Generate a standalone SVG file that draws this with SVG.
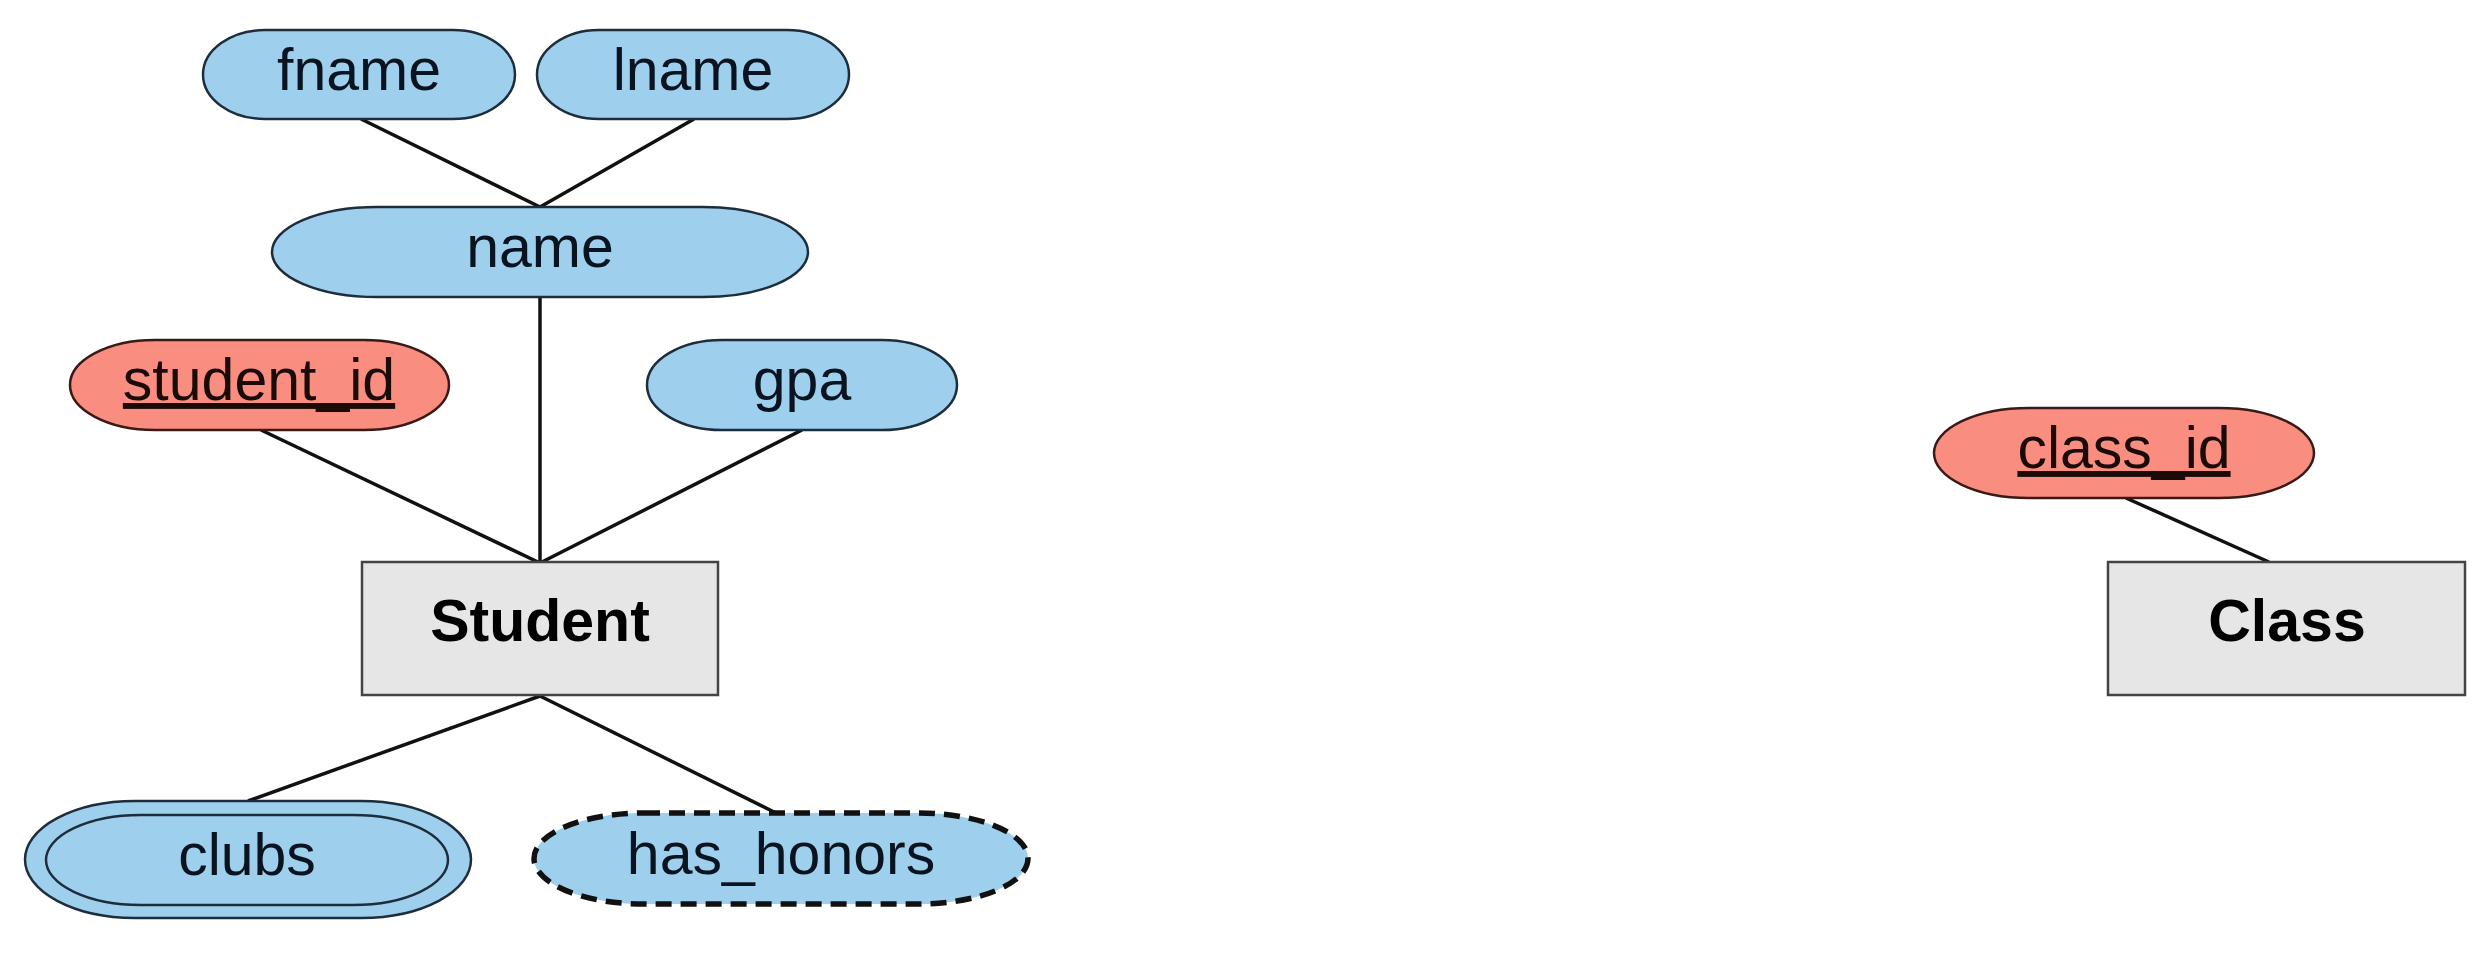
<svg xmlns="http://www.w3.org/2000/svg" width="2486" height="954" viewBox="0 0 2486 954">
<style>
.attr{fill:#9ed0ee;stroke:#1e2d3c;stroke-width:2.5}
.key{fill:#f98e80;stroke:#3a1a16;stroke-width:2.5}
.ent{fill:#e6e6e6;stroke:#444;stroke-width:2.5}
.lbl{font-family:"Liberation Sans",Arial,sans-serif;font-size:59px;fill:#0a1420;text-anchor:middle}
.klbl{font-family:"Liberation Sans",Arial,sans-serif;font-size:59px;fill:#1a0a08;text-anchor:middle;text-decoration:underline}
.elbl{font-family:"Liberation Sans",Arial,sans-serif;font-size:59px;font-weight:bold;fill:#000;text-anchor:middle}
.con line{stroke:#111;stroke-width:3.5}
</style>
<rect width="2486" height="954" fill="#fff"/>
<g class="con">
<line x1="361" y1="119" x2="540" y2="207"/>
<line x1="694" y1="119" x2="540" y2="207"/>
<line x1="540" y1="297" x2="540" y2="563"/>
<line x1="261" y1="430" x2="540" y2="563"/>
<line x1="802" y1="430" x2="540" y2="563"/>
<line x1="540" y1="696" x2="248" y2="801"/>
<line x1="540" y1="696" x2="776" y2="813"/>
<line x1="2126" y1="498" x2="2269" y2="562"/>
</g>
<g id="fname"><rect class="attr" x="203" y="30" width="312" height="89" rx="62" ry="44.5"/><text class="lbl" x="359" y="90">fname</text></g>
<g id="lname"><rect class="attr" x="537" y="30" width="312" height="89" rx="62" ry="44.5"/><text class="lbl" x="693" y="90">lname</text></g>
<g id="name"><rect class="attr" x="272" y="207" width="536" height="90" rx="105" ry="45"/><text class="lbl" x="540" y="267">name</text></g>
<g id="student_id"><rect class="key" x="70" y="340" width="379" height="90" rx="85" ry="45"/><text class="klbl" x="259" y="400">student_id</text></g>
<g id="gpa"><rect class="attr" x="647" y="340" width="310" height="90" rx="75" ry="45"/><text class="lbl" x="802" y="400">gpa</text></g>
<g id="Student"><rect class="ent" x="362" y="562" width="356" height="133"/><text class="elbl" x="540" y="641">Student</text></g>
<g id="clubs"><rect class="attr" x="25" y="801" width="446" height="117" rx="110" ry="58.5"/><rect class="attr" x="46" y="815" width="402" height="90" rx="95" ry="45"/><text class="lbl" x="247" y="875">clubs</text></g>
<g id="has_honors"><rect x="534" y="813" width="494" height="91" rx="110" ry="45.5" fill="#9ed0ee" stroke="#111" stroke-width="5.5" stroke-dasharray="16 9"/><text class="lbl" x="781" y="874">has_honors</text></g>
<g id="class_id"><rect class="key" x="1934" y="408" width="380" height="90" rx="95" ry="45"/><text class="klbl" x="2124" y="468">class_id</text></g>
<g id="Class"><rect class="ent" x="2108" y="562" width="357" height="133"/><text class="elbl" x="2287" y="641">Class</text></g>
</svg>
